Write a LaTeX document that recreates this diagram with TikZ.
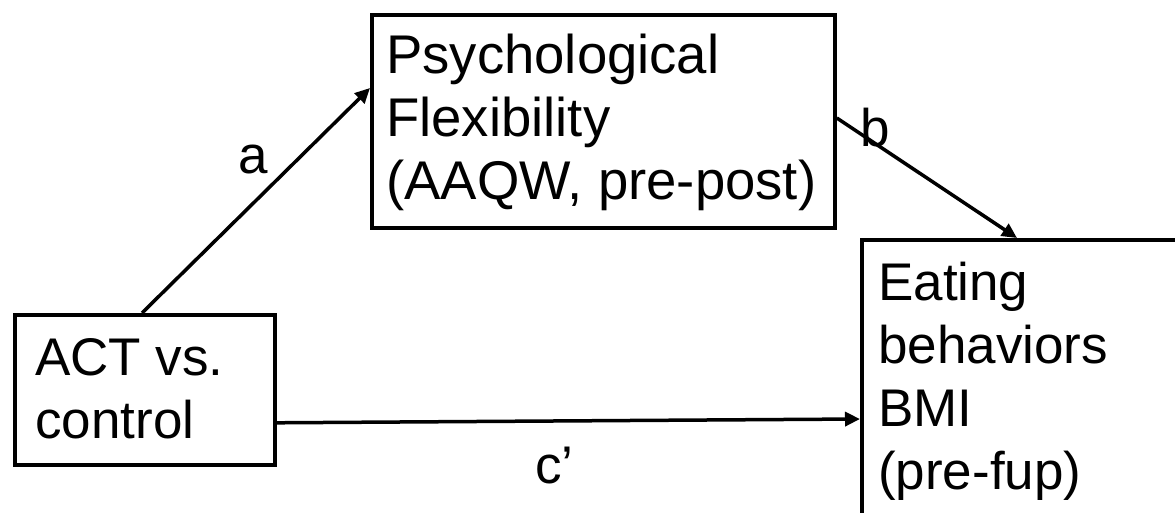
\documentclass[tikz,border=0pt]{standalone}
\usepackage{fontspec}
\setmainfont{Liberation Sans}
\usetikzlibrary{arrows.meta}
\begin{document}
\begin{tikzpicture}[x=1pt,y=-1pt,
  box/.style={draw, line width=3.8pt, rectangle, inner sep=0pt, anchor=north west},
  txt/.style={inner sep=0pt, align=left, anchor=north west,
    font=\fontsize{53}{63}\selectfont},
  lbl/.style={inner sep=0pt, anchor=base west, font=\fontsize{53}{63}\selectfont},
  arr/.style={line width=3.5pt, -{Triangle[length=15pt,width=14pt]}}]
\useasboundingbox (0,0) rectangle (1175,513);
% boxes
\node[box, minimum width=260pt, minimum height=150pt] (act) at (13,313) {};
\node[box, minimum width=463pt, minimum height=213pt] (psy) at (370,13) {};
\node[box, minimum width=360pt, minimum height=320pt] (eat) at (860,238) {};
% box texts
\node[txt] (actt) at (35,331) {\strut ACT vs.\\\strut control};
\node[txt, font=\fontsize{54.5}{63}\selectfont] (psyt) at (386,29)
  {\strut Psychological\\\strut Flexibility\\\strut (AAQW, pre-post)};
\node[txt] (eatt) at (878,256) {\strut Eating\\\strut behaviors\\\strut BMI\\\strut (pre-fup)};
% paths
\draw[arr] ([xshift=129pt]act.north west) -- ([yshift=-75pt]psy.north west);
\draw[arr] ([yshift=-105pt]psy.north east) -- ([xshift=157pt]eat.north west);
\draw[arr] ([yshift=44pt]act.south east) -- ([yshift=-181pt]eat.north west);
% path labels
\node[lbl] (la) at (238,174) {a};
\node[lbl] (lb) at (860,147) {b};
\node[lbl] (lc) at (535,483) {c’};
\end{tikzpicture}
\end{document}
